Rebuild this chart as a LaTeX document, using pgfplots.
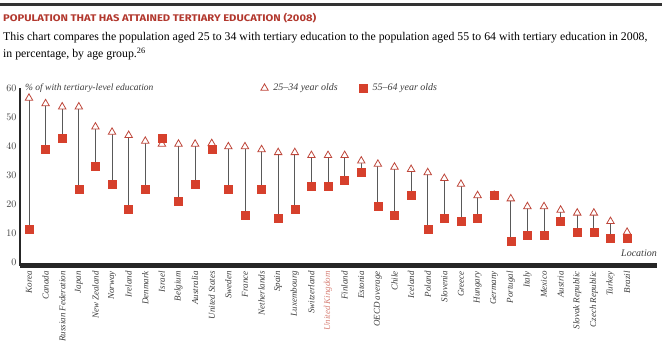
\documentclass[border=0pt]{standalone}
\usepackage{fontspec}
\setmainfont{Liberation Serif}
\setsansfont{Fira Sans}
\usepackage{pgfplots}
\pgfplotsset{compat=1.18}
\usepackage{pgfplotstable}
\definecolor{tri}{RGB}{190,70,58}
\definecolor{sq}{RGB}{214,64,44}
\definecolor{ttl}{RGB}{178,56,46}
\definecolor{uk}{RGB}{215,130,120}
\definecolor{lbl}{RGB}{60,60,60}

\pgfplotstableread{
x hi lo
0 56.6 11.4
1 54.7 39.1
2 53.6 42.9
3 53.6 25.3
4 46.7 33.1
5 44.9 27.1
6 43.8 18.3
7 41.8 25.3
8 40.8 42.9
9 40.8 21.2
10 40.8 27.1
11 41.0 39.1
12 39.9 25.3
13 39.9 16.4
14 38.9 25.3
15 37.9 15.4
16 37.9 18.3
17 36.9 26.2
18 36.9 26.2
19 36.9 28.2
20 35.0 31.2
21 33.9 19.4
22 32.9 16.4
23 32.1 23.3
24 31.0 11.4
25 29.0 15.4
26 27.0 14.4
27 23.1 15.4
28 23.2 23.2
29 22.0 7.5
30 19.3 9.5
31 19.3 9.5
32 18.1 14.4
33 17.1 10.4
34 17.1 10.4
35 14.2 8.3
36 10.5 8.3
}\data

\begin{document}
\begin{tikzpicture}
\path[use as bounding box] (0,0) rectangle (662pt,353pt);
\fill[black!80] (0,347pt) rectangle (662pt,350pt);
\node[anchor=west, inner sep=0pt, text=ttl] at (3pt,335pt)
  {\resizebox{313pt}{8.3pt}{\sffamily\bfseries POPULATION THAT HAS ATTAINED TERTIARY EDUCATION (2008)}};
\node[anchor=west, inner sep=0pt, font=\fontsize{11.8}{14}\selectfont] at (3pt,315pt)
  {This chart compares the population aged 25 to 34 with tertiary education to the population aged 55 to 64 with tertiary education in 2008,};
\node[anchor=west, inner sep=0pt, font=\fontsize{11.8}{14}\selectfont] at (3pt,299pt)
  {in percentage, by age group.\textsuperscript{26}};
\begin{axis}[
  at={(20pt,87.4pt)}, anchor=south west,
  scale only axis, width=637pt, height=177.4pt,
  xmin=-0.54, xmax=37.8, ymin=-1, ymax=60,
  axis lines*=left,
  x axis line style={line width=5pt, draw=black!85},
  y axis line style={line width=2.5pt, draw=black!85},
  tick style={draw=none},
  ytick={0,10,20,30,40,50,60},
  yticklabel style={font=\fontsize{10}{12}\selectfont, text=lbl},
  xtick={0,...,36},
  xticklabels={Korea,Canada,Russian Federation,Japan,New Zealand,Norway,Ireland,Denmark,Israel,Belgium,Australia,United States,Sweden,France,Netherlands,Spain,Luxembourg,Switzerland,{\color{uk}United Kingdom},Finland,Estonia,OECD average,Chile,Iceland,Poland,Slovenia,Greece,Hungary,Germany,Portugal,Italy,Mexico,Austria,Slovak Republic,Czech Republic,Turkey,Brazil},
  xticklabel style={rotate=90, anchor=east, font=\fontsize{9}{10}\selectfont\itshape, text=lbl},
  xticklabel shift=2pt,
  clip=false,
  legend style={at={(0.518,1)}, anchor=center, draw=none, fill=none,
    font=\fontsize{10}{12}\selectfont\itshape, text=lbl},
  legend columns=2,
  /tikz/every odd column/.append style={column sep=3pt},
  /tikz/every even column/.append style={column sep=20pt},
]
\addplot[only marks, mark=none, forget plot,
  error bars/.cd, y dir=plus, y explicit,
  error bar style={draw=black!65, line width=0.8pt}, error mark=none]
  table[x=x, y=lo, y error expr=\thisrow{hi}-\thisrow{lo}] {\data};
\addplot[only marks, mark=triangle*, mark size=4.3pt,
  mark options={fill=white, draw=tri, line width=0.8pt}]
  table[x=x, y=hi] {\data};
\addlegendentry{25--34 year olds}
\addplot[only marks, mark=square*, mark size=4pt,
  mark options={fill=sq, draw=sq}]
  table[x=x, y=lo] {\data};
\addlegendentry{55--64 year olds}
\node[anchor=west, inner sep=0pt, font=\fontsize{9.5}{11}\selectfont\itshape, text=lbl]
  at (rel axis cs:0,1) [xshift=5pt] {\% of with tertiary-level education};
\node[anchor=south east, inner sep=0pt, font=\fontsize{10}{12}\selectfont\itshape, text=lbl]
  at (rel axis cs:1,0) [yshift=9pt] {Location};
\end{axis}
\end{tikzpicture}
\end{document}
